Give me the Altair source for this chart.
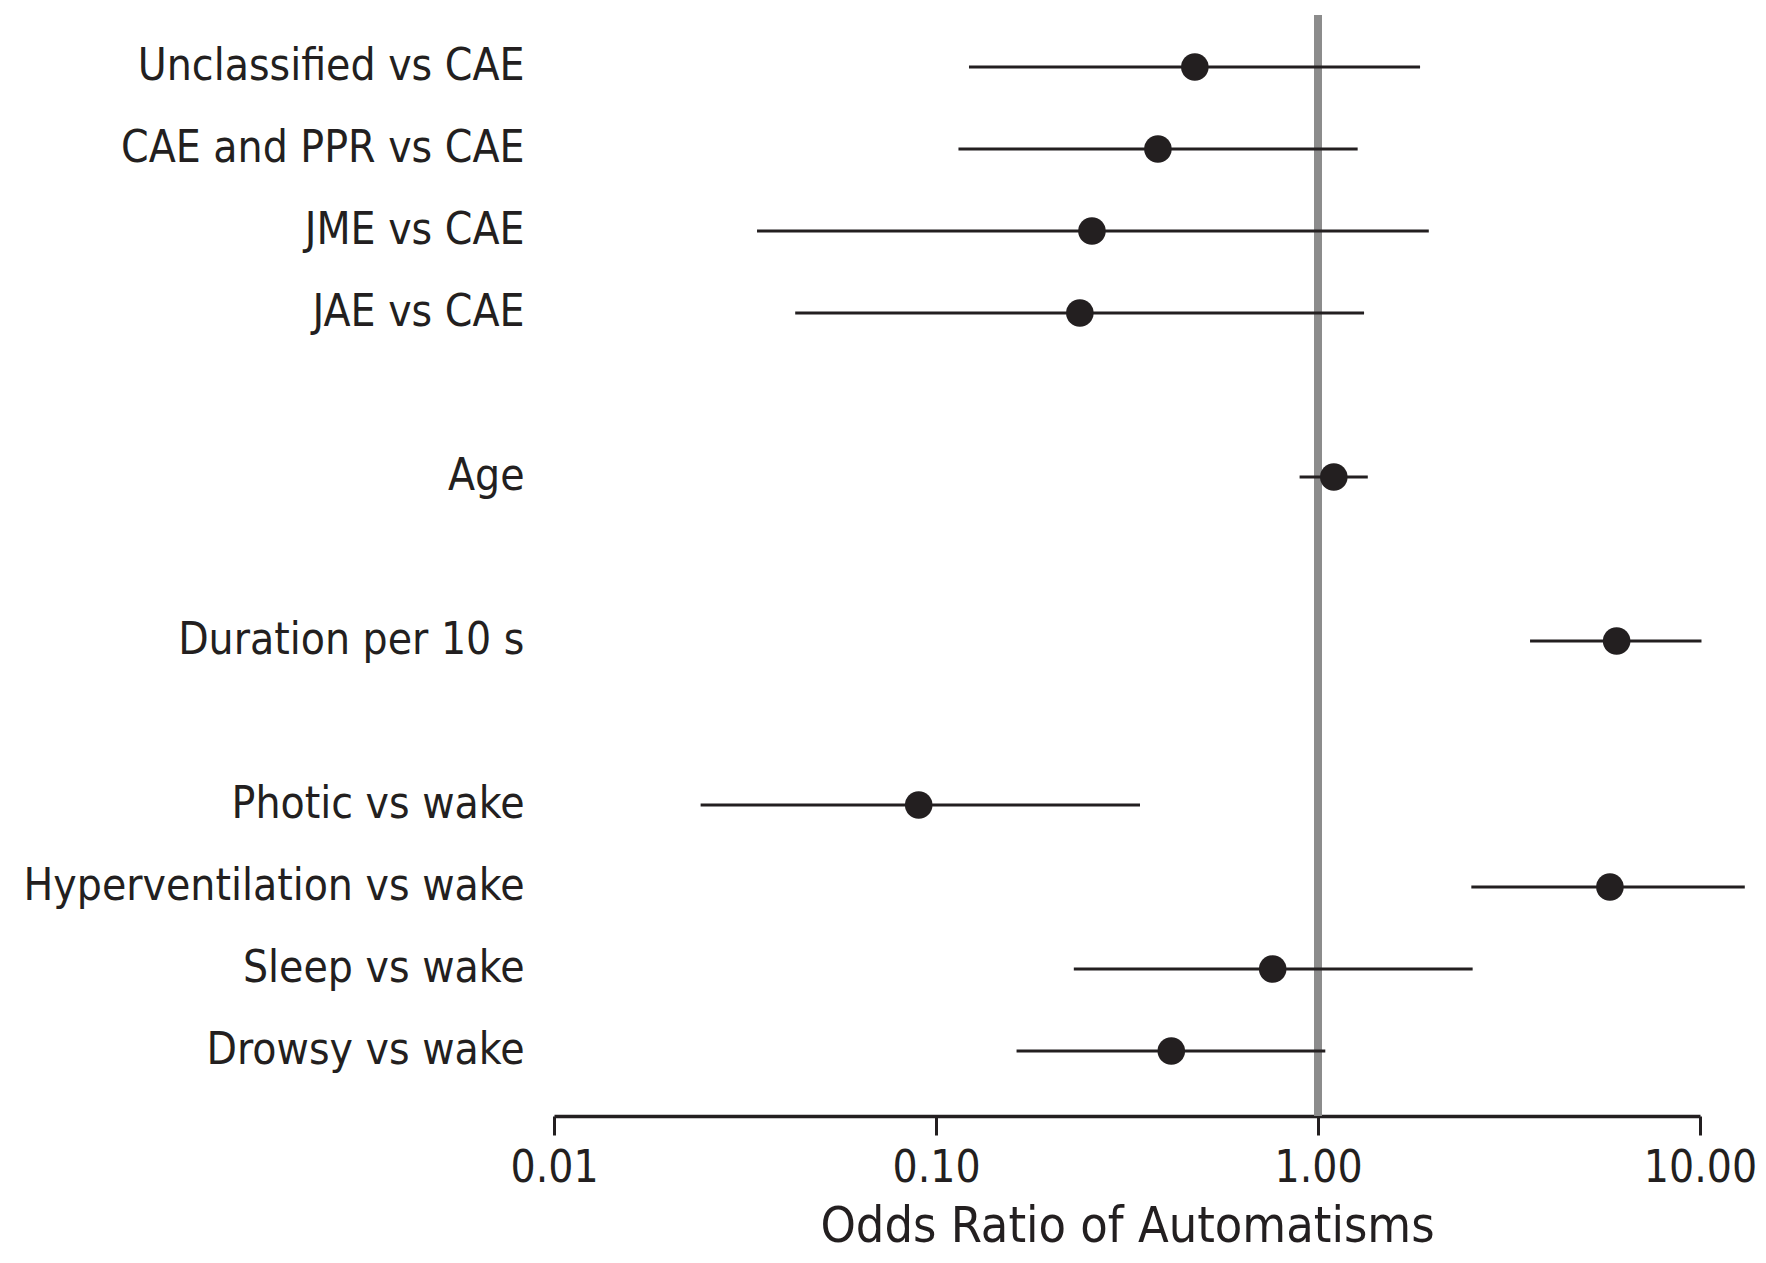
import json
import altair as alt
import pandas as pd

labels = ["Unclassified vs CAE", "CAE and PPR vs CAE", "JME vs CAE", "JAE vs CAE",
          "Age", "Duration per 10 s",
          "Photic vs wake", "Hyperventilation vs wake", "Sleep vs wake", "Drowsy vs wake"]
odds = [0.476, 0.381, 0.256, 0.238, 1.10, 6.05, 0.0901, 5.81, 0.761, 0.413]
ci_low = [0.122, 0.1145, 0.034, 0.0428, 0.895, 3.59, 0.0242, 2.52, 0.2295, 0.1625]
ci_high = [1.85, 1.27, 1.95, 1.32, 1.35, 10.09, 0.342, 13.1, 2.54, 1.045]

# row order top to bottom, with blank spacer rows ("") between groups
row_order = ["Unclassified vs CAE", "CAE and PPR vs CAE", "JME vs CAE", "JAE vs CAE", "",
             "Age", "", "Duration per 10 s", "",
             "Photic vs wake", "Hyperventilation vs wake", "Sleep vs wake", "Drowsy vs wake"]

x_ticks = [0.01, 0.1, 1, 10]
ref_value = [1.0]

rows = [row_order.index(l) for l in labels]
df = pd.DataFrame({"label": labels, "row": rows, "odds": odds, "lo": ci_low, "hi": ci_high})
ref_df = pd.DataFrame({"ref": ref_value})

FONT = "DejaVu Sans Condensed"
INK = "#231f20"

xscale = alt.Scale(type="log", domain=[0.01, 10], nice=False)
yscale = alt.Scale(domain=[-0.634, len(row_order) - 1 + 0.793], reverse=True, nice=False, zero=False)

x_axis = alt.Axis(values=x_ticks, format=".2f", title="Odds Ratio of Automatisms",
                  grid=False, domainColor=INK, domainWidth=3.5, tickColor=INK,
                  tickWidth=3, tickSize=19, labelPadding=11, labelFont=FONT,
                  labelFontSize=44, labelColor=INK, labelFlush=False,
                  titleFont=FONT, titleFontSize=50,
                  titleFontWeight="normal", titleColor=INK,
                  titleBaseline="alphabetic", titleY=125)
y_axis = alt.Axis(title=None, domain=False, ticks=False, grid=False, labelPadding=30,
                  values=rows, labelExpr=json.dumps(row_order) + "[datum.value]",
                  labelFont=FONT, labelFontSize=44, labelColor=INK, labelLimit=800)

ref_rule = alt.Chart(ref_df).mark_rule(color="#8c8c8c", strokeWidth=8).encode(
    x=alt.X("ref:Q", scale=xscale, axis=x_axis)
)

bars = alt.Chart(df).mark_rule(color=INK, strokeWidth=3).encode(
    x=alt.X("lo:Q", scale=xscale, axis=x_axis),
    x2="hi:Q",
    y=alt.Y("row:Q", scale=yscale, axis=y_axis),
)

points = alt.Chart(df).mark_circle(color=INK, opacity=1, size=760).encode(
    x=alt.X("odds:Q", scale=xscale, axis=x_axis),
    y=alt.Y("row:Q", scale=yscale, axis=y_axis),
)

chart = alt.layer(ref_rule, bars, points).properties(
    width=1146, height=1101,
    background="white",
    autosize=alt.AutoSizeParams(type="none"),
    padding={"left": 546, "top": 7, "right": 58, "bottom": 136},
).configure_view(stroke="transparent", strokeWidth=0)

chart.save("out.html", embed_options={"renderer": "svg", "actions": False})
